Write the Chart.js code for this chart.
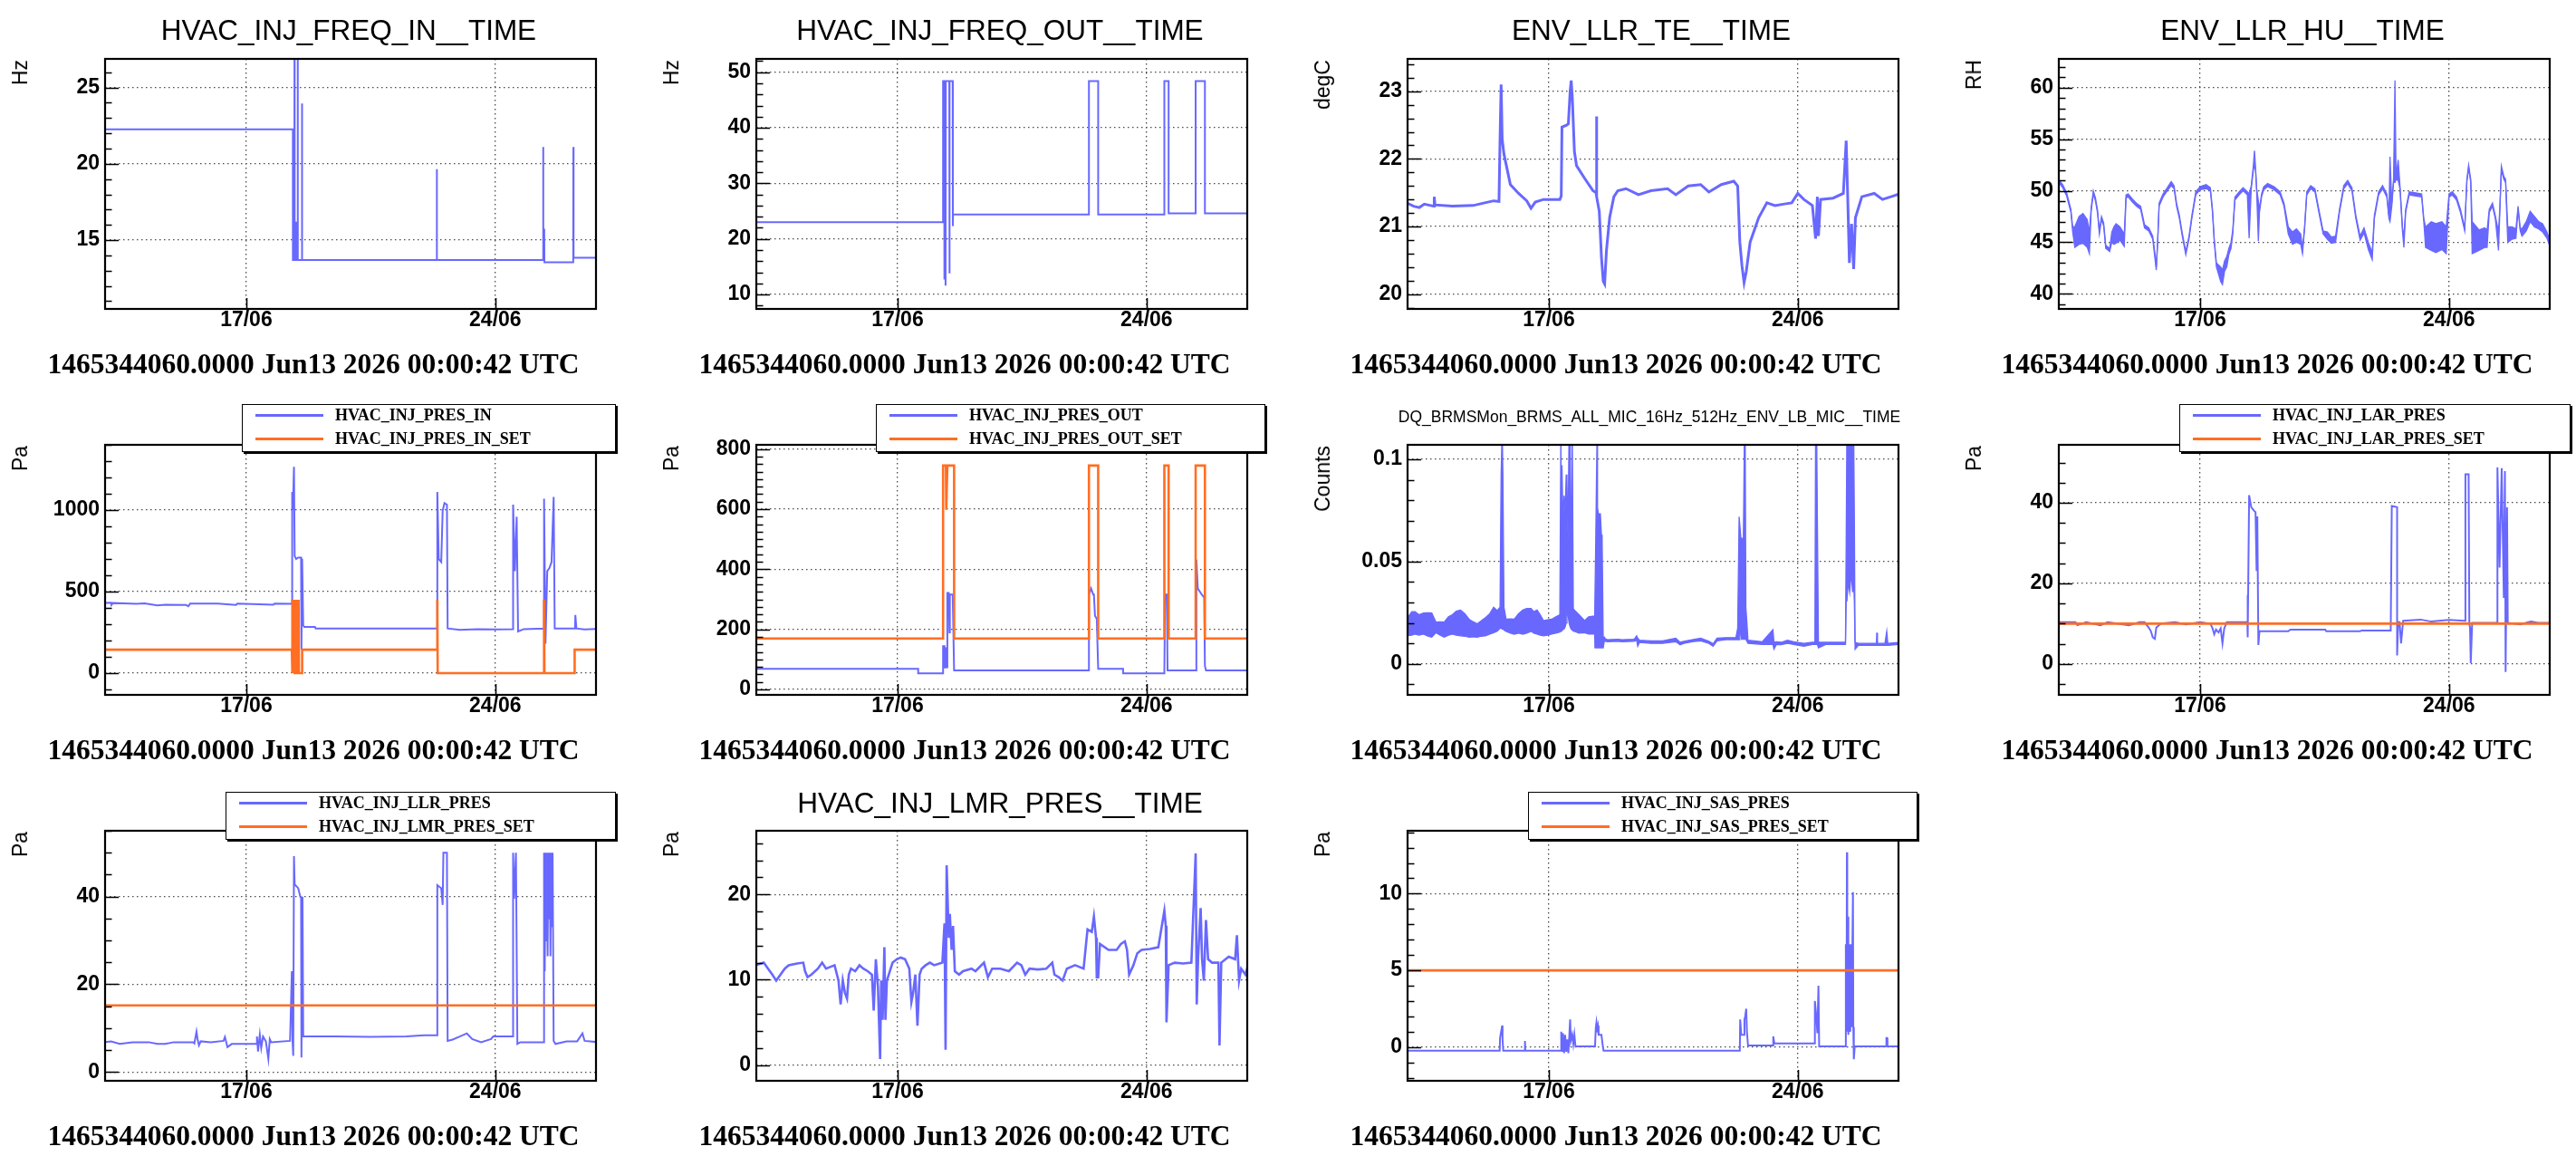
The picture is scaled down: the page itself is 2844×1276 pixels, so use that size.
<!DOCTYPE html>
<html><head><meta charset="utf-8">
<script src="https://cdn.jsdelivr.net/npm/chart.js@4.4.1/dist/chart.umd.min.js"></script>
<style>
html,body{margin:0;padding:0;background:#fff;}
body{width:2844px;height:1276px;overflow:hidden;position:relative;}
.cell{position:absolute;width:719px;height:426px;}
.cell canvas{position:absolute;left:0;top:0;}
.t{position:absolute;white-space:nowrap;line-height:1;color:#000;}
.title{font-family:'Liberation Sans',Arial,sans-serif;font-size:31.5px;transform:translateX(-50%);}
.small{font-family:'Liberation Sans',Arial,sans-serif;font-size:17.5px;transform:translateX(-50%);}
.stamp{font-family:'Liberation Serif','Times New Roman',serif;font-weight:bold;font-size:31.5px;transform:translateX(-50%);}
.unit{font-family:'Liberation Sans',Arial,sans-serif;font-size:23px;writing-mode:vertical-rl;transform:rotate(180deg);}
.leg{position:absolute;background:#fff;border:1.5px solid #000;box-shadow:2px 2px 0 #000;box-sizing:border-box;}
.leg .ln{position:absolute;height:3px;}
.leg .lt{position:absolute;font-family:'Liberation Serif','Times New Roman',serif;font-weight:bold;font-size:18px;line-height:1;white-space:nowrap;color:#000;}
</style></head><body>
<script>
// ---------------- DATA ----------------
const xTickValues = [17, 24];
const xTickLabels = ['17/06', '24/06'];
const stampText = '1465344060.0000 Jun13 2026 00:00:42 UTC';

// [day of June, value]
const freqIn = [[13.0,22.27],[18.31,22.27],[18.31,13.7],[18.35,13.7],[18.355,27.5],[18.36,13.7],[18.39,13.7],[18.395,16.2],[18.40,13.7],[18.44,13.7],[18.445,27.5],[18.45,13.7],[18.56,13.7],[18.565,23.95],[18.57,13.7],[22.35,13.7],[22.355,19.65],[22.36,13.7],[25.34,13.7],[25.345,21.1],[25.35,13.7],[25.37,13.7],[25.375,15.75],[25.38,13.55],[26.19,13.55],[26.195,21.1],[26.2,13.85],[26.9,13.85]];

const freqOut = [[13.0,23.0],[18.28,23.0],[18.28,48.4],[18.31,48.4],[18.315,12.7],[18.32,48.4],[18.345,48.4],[18.35,11.6],[18.355,48.4],[18.455,48.4],[18.46,13.8],[18.465,48.4],[18.55,48.4],[18.555,22.3],[18.56,24.4],[22.38,24.4],[22.38,48.4],[22.64,48.4],[22.64,24.4],[24.50,24.4],[24.50,48.4],[24.62,48.4],[24.62,24.6],[25.38,24.6],[25.38,48.4],[25.64,48.4],[25.64,24.6],[26.9,24.6]];

const llrTe = [[13.0,21.35],[13.2,21.3],[13.36,21.28],[13.5,21.33],[13.77,21.3],[13.78,21.44],[13.8,21.32],[14.29,21.3],[14.87,21.31],[15.2,21.35],[15.45,21.38],[15.6,21.37],[15.63,22.3],[15.66,23.10],[15.69,22.29],[15.74,22.07],[15.92,21.62],[16.15,21.49],[16.38,21.38],[16.5,21.27],[16.62,21.36],[16.85,21.4],[17.31,21.4],[17.35,21.45],[17.37,22.47],[17.5,22.5],[17.55,22.52],[17.6,23.0],[17.63,23.16],[17.66,22.92],[17.72,22.11],[17.78,21.9],[18.01,21.71],[18.24,21.53],[18.33,21.5],[18.34,22.63],[18.35,21.44],[18.42,21.22],[18.48,20.55],[18.53,20.19],[18.57,20.15],[18.62,20.64],[18.71,21.13],[18.83,21.44],[18.94,21.53],[19.17,21.56],[19.52,21.47],[19.87,21.53],[20.34,21.56],[20.57,21.47],[20.92,21.6],[21.27,21.62],[21.5,21.51],[21.85,21.62],[22.2,21.67],[22.31,21.6],[22.37,20.77],[22.43,20.42],[22.49,20.17],[22.55,20.33],[22.66,20.77],[22.9,21.13],[23.13,21.35],[23.36,21.31],[23.59,21.33],[23.83,21.35],[24.0,21.49],[24.17,21.4],[24.41,21.31],[24.5,20.82],[24.55,21.44],[24.58,20.86],[24.64,21.4],[24.99,21.42],[25.28,21.49],[25.36,22.27],[25.4,21.49],[25.45,20.46],[25.51,21.04],[25.57,20.37],[25.62,21.13],[25.8,21.44],[26.15,21.49],[26.38,21.4],[26.62,21.44],[26.9,21.49]];

// [day, low, high] envelope of the noisy humidity trace
const llrHu = [[13.0,50.9,51.2],[13.14,50.3,50.6],[13.25,49.5,49.8],[13.37,47.9,48.2],[13.42,46.0,46.5],[13.48,44.5,46.5],[13.60,44.8,47.5],[13.71,44.9,47.8],[13.83,44.5,47.2],[13.89,43.9,46.0],[13.94,48.0,48.4],[14.00,49.7,50.0],[14.06,49.0,49.3],[14.12,47.8,48.1],[14.17,45.8,46.1],[14.23,47.2,47.5],[14.29,46.6,46.9],[14.35,44.4,44.7],[14.46,44.1,44.4],[14.52,45.0,46.0],[14.58,44.8,46.5],[14.64,44.9,46.8],[14.75,45.2,46.5],[14.87,44.6,45.8],[14.92,49.3,49.6],[14.98,49.4,49.7],[15.10,48.9,49.2],[15.21,48.5,48.8],[15.33,48.2,48.5],[15.44,46.4,46.7],[15.56,46.1,46.4],[15.67,45.3,45.6],[15.73,43.5,44.0],[15.77,42.3,42.6],[15.81,45.0,45.3],[15.85,48.5,48.8],[15.96,49.4,49.7],[16.08,50.0,50.3],[16.19,50.5,50.9],[16.27,50.2,50.5],[16.34,48.5,48.8],[16.42,47.3,47.6],[16.50,45.6,45.9],[16.60,43.8,44.1],[16.69,45.3,45.6],[16.77,47.3,47.6],[16.88,49.6,49.9],[17.00,50.1,50.4],[17.17,50.2,50.6],[17.29,50.0,50.3],[17.35,47.9,48.2],[17.40,45.0,45.3],[17.46,42.6,43.0],[17.52,41.9,42.8],[17.58,41.2,42.6],[17.63,40.9,42.3],[17.69,42.2,43.2],[17.75,42.6,43.6],[17.81,43.8,44.4],[17.87,44.4,45.0],[17.92,45.8,46.2],[17.98,49.1,49.4],[18.10,49.6,49.9],[18.21,50.0,50.3],[18.33,49.6,49.9],[18.38,45.4,49.7],[18.44,50.2,50.5],[18.50,52.0,52.5],[18.53,52.5,53.9],[18.56,52.0,52.3],[18.59,50.0,50.3],[18.64,45.1,49.0],[18.67,47.9,48.2],[18.73,49.4,49.7],[18.79,50.1,50.4],[18.90,50.4,50.7],[19.08,50.1,50.4],[19.25,49.6,49.9],[19.36,48.5,48.8],[19.48,45.8,46.5],[19.60,44.8,46.0],[19.71,45.0,46.3],[19.83,44.8,45.8],[19.88,43.9,44.4],[19.94,46.3,46.6],[20.00,49.6,49.9],[20.11,50.2,50.5],[20.23,49.9,50.2],[20.34,47.9,48.2],[20.46,45.8,46.1],[20.58,45.3,46.0],[20.69,44.9,45.5],[20.81,45.0,45.6],[20.92,47.9,48.2],[21.04,50.2,50.5],[21.15,50.7,51.0],[21.27,50.0,50.3],[21.38,47.3,47.6],[21.50,45.2,45.6],[21.61,45.9,46.4],[21.73,44.3,45.0],[21.84,43.3,44.0],[21.90,47.3,47.6],[22.02,49.6,49.9],[22.13,50.2,50.5],[22.25,49.4,49.7],[22.31,47.3,47.6],[22.34,47.0,53.3],[22.39,48.5,48.8],[22.44,50.8,51.1],[22.48,50.8,60.7],[22.51,51.1,51.4],[22.57,51.0,53.0],[22.62,50.2,50.5],[22.69,46.1,46.5],[22.73,44.5,45.5],[22.78,47.9,48.2],[22.88,49.6,49.9],[23.06,49.5,49.8],[23.23,49.4,49.7],[23.29,47.0,47.3],[23.34,44.5,46.5],[23.50,44.2,47.0],[23.63,44.0,46.8],[23.80,44.3,47.0],[23.92,43.9,46.5],[24.00,49.4,49.7],[24.09,49.6,49.9],[24.21,49.1,49.4],[24.32,47.9,48.2],[24.44,46.1,46.4],[24.50,50.8,51.1],[24.55,52.2,52.5],[24.61,50.8,51.1],[24.65,43.9,47.0],[24.84,44.2,46.2],[25.00,44.5,46.4],[25.07,44.5,46.2],[25.13,47.9,48.2],[25.22,48.5,48.8],[25.30,47.3,47.6],[25.39,44.2,46.0],[25.43,48.2,48.5],[25.47,52.0,52.4],[25.54,51.1,51.4],[25.59,50.8,51.1],[25.65,45.0,46.5],[25.77,45.3,46.5],[25.88,45.4,46.3],[25.94,48.2,48.5],[26.00,46.1,46.4],[26.05,45.6,46.3],[26.17,46.1,47.0],[26.28,47.0,48.0],[26.40,46.5,47.5],[26.52,46.3,47.0],[26.63,46.0,46.8],[26.75,45.4,46.0],[26.9,44.0,44.6]];

const presIn = [[13.0,431],[13.2,432],[13.21,418],[13.25,430],[13.56,428],[13.91,425],[14.14,428],[14.5,415],[14.72,420],[15.31,418],[15.37,410],[15.42,426],[16.2,427],[16.71,418],[16.75,427],[17.76,420],[17.8,426],[18.28,425],[18.29,1111],[18.31,1000],[18.34,1265],[18.36,718],[18.40,700],[18.46,709],[18.52,709],[18.54,709],[18.55,144],[18.57,700],[18.60,293],[18.63,283],[18.93,283],[18.95,274],[22.37,274],[22.37,1111],[22.41,700],[22.48,682],[22.52,996],[22.57,1043],[22.64,1033],[22.66,274],[23.0,265],[23.5,270],[24.0,268],[24.50,270],[24.50,1033],[24.55,626],[24.60,959],[24.64,256],[24.8,270],[25.37,274],[25.37,1070],[25.41,181],[25.46,626],[25.52,644],[25.58,681],[25.64,1080],[25.67,274],[26.24,274],[26.25,357],[26.28,274],[26.5,268],[26.9,272]];
const presInSet = [[13.0,144],[18.28,144],[18.29,450],[18.30,0],[18.31,450],[18.32,0],[18.33,450],[18.34,0],[18.35,450],[18.36,0],[18.37,450],[18.38,0],[18.39,450],[18.40,0],[18.41,450],[18.42,0],[18.43,450],[18.44,0],[18.45,450],[18.46,0],[18.47,450],[18.48,0],[18.57,0],[18.57,144],[22.37,144],[22.37,450],[22.38,0],[25.37,0],[25.37,450],[25.38,0],[26.23,0],[26.23,144],[26.9,144]];

const presOut = [[13.0,68.6],[17.58,68.6],[17.58,53.5],[18.28,53.5],[18.28,144],[18.32,144],[18.33,73],[18.35,140],[18.38,74],[18.40,321],[18.44,321],[18.46,190],[18.47,316],[18.55,316],[18.59,63.6],[22.38,63.6],[22.38,316],[22.44,336],[22.5,316],[22.52,316],[22.55,245],[22.6,235],[22.64,68.6],[23.34,68.6],[23.34,53.5],[24.50,53.5],[24.52,316],[24.57,316],[24.59,63.6],[25.38,63.6],[25.40,432],[25.44,336],[25.55,316],[25.62,306],[25.64,78.7],[25.67,63.6],[26.9,63.6]];
const presOutSet = [[13.0,169.5],[18.28,169.5],[18.28,745],[18.36,745],[18.37,598],[18.40,745],[18.59,745],[18.59,169.5],[22.38,169.5],[22.38,745],[22.64,745],[22.64,169.5],[24.50,169.5],[24.50,745],[24.62,745],[24.62,169.5],[25.38,169.5],[25.38,745],[25.64,745],[25.64,169.5],[26.9,169.5]];

// [day, low, high] envelope of the noisy BRMS trace
const micBrms = [[13.0,.0137,.0218],[13.15,.0140,.0255],[13.24,.0145,.0255],[13.35,.0140,.0240],[13.48,.0145,.0248],[13.60,.0135,.0250],[13.71,.0130,.0248],[13.83,.0152,.0204],[13.95,.0140,.0205],[14.06,.0130,.0204],[14.18,.0140,.0230],[14.29,.0145,.0240],[14.40,.0140,.0258],[14.52,.0137,.0263],[14.64,.0135,.0245],[14.76,.0130,.0218],[14.88,.0132,.0205],[14.99,.0130,.0196],[15.10,.0135,.0210],[15.22,.0137,.0226],[15.34,.0145,.0245],[15.45,.0152,.0277],[15.55,.0160,.0260],[15.63,.0174,.0277],[15.66,.0174,.0926],[15.69,.0170,.115],[15.71,.0170,.0926],[15.74,.0165,.0277],[15.80,.0159,.0218],[15.92,.0150,.0220],[16.03,.0145,.0218],[16.15,.0150,.0245],[16.27,.0145,.0263],[16.38,.0150,.0270],[16.50,.0159,.0270],[16.58,.0150,.0255],[16.67,.0145,.0263],[16.76,.0140,.0240],[16.85,.0137,.0211],[16.96,.0140,.0215],[17.08,.0145,.0218],[17.20,.0150,.0230],[17.31,.0155,.0240],[17.34,.0160,.115],[17.36,.0159,.0400],[17.37,.0159,.0971],[17.40,.0170,.0700],[17.43,.0170,.0823],[17.46,.0180,.0750],[17.49,.0200,.0926],[17.51,.0250,.0900],[17.54,.0240,.0602],[17.57,.0200,.115],[17.60,.0180,.115],[17.63,.0170,.0400],[17.66,.0165,.115],[17.69,.0160,.0270],[17.72,.0159,.0263],[17.85,.0150,.0240],[18.01,.0152,.0211],[18.12,.0145,.0230],[18.24,.0145,.0233],[18.29,.0145,.0233],[18.30,.0078,.0233],[18.32,.0078,.0600],[18.34,.0078,.0897],[18.36,.0078,.115],[18.37,.0078,.0764],[18.39,.0078,.0740],[18.41,.0078,.0180],[18.42,.0078,.0734],[18.45,.0078,.0734],[18.48,.0078,.0631],[18.50,.0078,.0600],[18.53,.0078,.0120],[18.56,.0110,.0130],[18.59,.0110,.0122],[18.65,.0108,.0118],[18.94,.0110,.0120],[19.06,.0108,.0118],[19.40,.0110,.0120],[19.47,.0115,.0137],[19.50,.0086,.0125],[19.55,.0105,.0115],[19.87,.0100,.0112],[20.20,.0100,.0112],[20.57,.0108,.0125],[20.69,.0093,.0105],[20.80,.0100,.0110],[21.03,.0108,.0118],[21.27,.0112,.0125],[21.50,.0100,.0110],[21.62,.0086,.0098],[21.73,.0112,.0125],[21.97,.0118,.0128],[22.26,.0118,.0128],[22.31,.0118,.0174],[22.35,.0118,.0720],[22.37,.0150,.0720],[22.40,.0150,.0617],[22.42,.0120,.0602],[22.47,.0120,.0617],[22.50,.0120,.115],[22.52,.0120,.115],[22.54,.0120,.0277],[22.57,.0110,.0200],[22.60,.0100,.0115],[23.00,.0095,.0108],[23.30,.0095,.0167],[23.33,.0071,.0105],[23.40,.0095,.0108],[23.53,.0093,.0105],[23.71,.0100,.0115],[23.88,.0095,.0108],[24.17,.0086,.0100],[24.41,.0095,.0105],[24.48,.0095,.0105],[24.50,.0095,.115],[24.53,.0095,.115],[24.55,.0095,.0705],[24.58,.0078,.0105],[24.80,.0095,.0105],[25.10,.0095,.0105],[25.34,.0095,.0105],[25.36,.0307,.0600],[25.38,.0307,.115],[25.42,.0400,.115],[25.46,.0350,.115],[25.50,.0450,.115],[25.54,.0350,.115],[25.57,.0400,.115],[25.59,.0300,.0700],[25.61,.0071,.0105],[25.70,.0090,.0100],[26.00,.0090,.0100],[26.21,.0090,.0100],[26.22,.0090,.0152],[26.24,.0090,.0100],[26.45,.0090,.0100],[26.50,.0090,.0159],[26.53,.0090,.0100],[26.9,.0095,.0105]];

const larPres = [[13.0,10.35],[13.5,10.35],[13.55,9.6],[13.8,10.35],[14.2,9.6],[14.4,10.35],[15.0,9.6],[15.3,10.35],[15.44,10.35],[15.56,9.0],[15.62,8.1],[15.67,6.6],[15.73,6.2],[15.77,9.0],[15.9,10.0],[16.3,10.35],[16.6,9.8],[17.0,10.35],[17.29,10.0],[17.35,8.85],[17.4,7.35],[17.45,8.5],[17.52,7.8],[17.58,8.8],[17.63,5.1],[17.68,8.8],[17.75,10.35],[18.33,10.35],[18.33,17.1],[18.35,6.6],[18.38,41.9],[18.44,38.9],[18.52,38.0],[18.56,37.7],[18.59,23.1],[18.61,36.6],[18.63,36.6],[18.64,4.7],[18.67,8.1],[19.48,8.1],[19.54,8.5],[20.52,8.5],[20.55,8.1],[21.50,8.1],[21.55,8.3],[22.36,8.3],[22.39,39.2],[22.54,38.9],[22.54,2.1],[22.57,10.35],[22.61,10.35],[22.65,5.1],[22.71,10.7],[23.2,11.0],[23.5,10.5],[24.0,10.9],[24.44,10.7],[24.46,47.1],[24.55,47.1],[24.57,10.0],[24.59,9.0],[24.61,0.2],[24.65,10.2],[25.36,10.2],[25.36,48.8],[25.42,23.9],[25.48,48.6],[25.54,16.4],[25.57,47.9],[25.59,-2.0],[25.63,38.9],[25.65,10.2],[26.0,9.8],[26.3,10.5],[26.5,10.2],[26.9,10.2]];
const larPresSet = [[13.0,10.0],[26.9,10.0]];

const llrPres = [[13.0,6.8],[13.2,7.0],[13.44,6.4],[13.8,6.8],[14.26,6.8],[14.5,6.4],[14.72,6.4],[14.96,6.8],[15.5,6.8],[15.54,6.5],[15.6,9.2],[15.63,7.5],[15.67,6.1],[15.72,7.0],[16.0,6.8],[16.36,7.1],[16.4,8.0],[16.47,5.7],[16.59,6.4],[17.06,6.4],[17.29,6.4],[17.3,8.1],[17.33,4.7],[17.38,8.5],[17.42,5.5],[17.47,8.1],[17.55,7.0],[17.62,3.0],[17.66,7.5],[17.7,6.8],[18.23,7.1],[18.28,23.0],[18.3,7.1],[18.32,3.7],[18.34,49.2],[18.36,42.6],[18.38,42.6],[18.46,41.9],[18.52,39.9],[18.54,39.9],[18.55,3.3],[18.58,39.9],[18.60,8.1],[18.63,8.1],[19.5,8.1],[20.5,8.0],[21.5,8.1],[22.0,8.4],[22.37,8.4],[22.37,42.6],[22.48,41.9],[22.52,38.1],[22.54,50.0],[22.64,50.0],[22.66,7.1],[22.8,7.4],[23.0,8.1],[23.2,8.8],[23.35,7.5],[23.6,6.8],[23.88,7.5],[23.94,8.1],[24.50,8.1],[24.50,50.0],[24.53,39.5],[24.58,50.0],[24.62,6.4],[24.7,6.8],[25.37,6.8],[25.37,50.0],[25.39,23.0],[25.41,50.0],[25.43,30.0],[25.45,50.0],[25.47,26.4],[25.49,50.0],[25.51,35.0],[25.53,50.0],[25.55,26.4],[25.57,50.0],[25.59,33.0],[25.61,50.0],[25.64,7.1],[25.69,6.4],[26.0,7.0],[26.3,7.0],[26.45,8.8],[26.51,7.1],[26.9,6.8]];
const lmrPresSet = [[13.0,15.2],[26.9,15.2]];

const lmrPres = [[13.0,11.7],[13.24,12.0],[13.36,11.3],[13.48,10.6],[13.59,9.9],[13.71,10.6],[13.83,11.3],[13.94,11.7],[14.18,11.9],[14.35,12.0],[14.40,11.0],[14.47,10.3],[14.58,10.6],[14.76,11.3],[14.88,12.0],[14.99,11.3],[15.23,11.7],[15.34,9.9],[15.40,7.1],[15.46,9.9],[15.52,8.5],[15.58,7.8],[15.63,10.6],[15.69,11.3],[15.81,11.0],[15.93,11.7],[16.04,11.3],[16.16,11.0],[16.28,10.6],[16.33,6.4],[16.39,12.4],[16.45,9.2],[16.51,0.7],[16.54,9.9],[16.58,5.3],[16.63,13.8],[16.66,5.3],[16.70,9.9],[16.86,12.0],[16.98,12.4],[17.09,12.6],[17.21,12.4],[17.33,11.3],[17.39,7.4],[17.44,8.5],[17.50,10.6],[17.56,4.6],[17.62,10.6],[17.68,11.3],[17.79,11.7],[17.91,12.0],[18.03,11.7],[18.26,12.0],[18.32,16.6],[18.35,1.8],[18.38,23.4],[18.44,14.9],[18.47,17.7],[18.52,13.5],[18.56,16.3],[18.61,11.0],[18.73,10.6],[18.84,11.0],[19.08,11.3],[19.19,11.0],[19.43,12.0],[19.54,10.3],[19.66,11.3],[19.89,11.3],[20.13,11.0],[20.36,12.0],[20.48,11.7],[20.59,10.6],[20.71,11.3],[20.94,11.2],[21.18,11.3],[21.35,12.0],[21.41,10.6],[21.53,10.3],[21.64,9.9],[21.76,11.3],[21.99,11.7],[22.23,11.3],[22.34,15.9],[22.46,15.6],[22.52,17.4],[22.58,14.9],[22.60,10.3],[22.64,10.3],[22.69,14.2],[22.93,13.5],[23.16,13.5],[23.28,14.2],[23.39,14.5],[23.45,13.5],[23.51,10.6],[23.63,11.7],[23.74,13.1],[23.86,13.5],[24.09,13.6],[24.33,13.8],[24.50,18.1],[24.54,16.3],[24.56,5.0],[24.62,11.7],[24.79,12.0],[25.03,11.9],[25.26,12.0],[25.38,24.8],[25.41,7.1],[25.45,12.7],[25.52,18.4],[25.56,12.4],[25.61,9.9],[25.67,17.0],[25.73,12.4],[25.84,12.0],[26.02,12.0],[26.05,2.3],[26.10,12.0],[26.31,12.7],[26.49,12.4],[26.54,15.2],[26.60,9.9],[26.66,11.3],[26.78,10.6],[26.9,12.4]];

const sasPres = [[13.0,-0.24],[15.62,-0.24],[15.63,0.6],[15.66,1.0],[15.69,1.4],[15.70,0.5],[15.72,-0.24],[16.32,-0.24],[16.33,0.4],[16.34,-0.24],[17.34,-0.24],[17.35,1.0],[17.38,-0.3],[17.40,0.9],[17.43,-0.4],[17.46,0.8],[17.49,-0.3],[17.52,0.5],[17.55,-0.4],[17.58,0.9],[17.60,1.8],[17.62,0.4],[17.66,0.8],[17.69,0.2],[17.72,0.8],[17.75,0.04],[18.30,0.04],[18.32,1.2],[18.34,1.6],[18.36,1.2],[18.38,1.4],[18.40,0.8],[18.48,0.8],[18.52,0.04],[18.54,-0.24],[22.37,-0.24],[22.38,1.8],[22.41,0.8],[22.48,0.8],[22.50,1.8],[22.52,2.0],[22.55,2.5],[22.57,1.0],[22.60,0.1],[23.30,0.1],[23.31,0.7],[23.34,0.24],[24.47,0.24],[24.48,3.0],[24.52,2.0],[24.55,0.9],[24.58,4.0],[24.60,0.04],[25.34,0.04],[25.35,6.7],[25.37,1.0],[25.38,12.7],[25.39,2.0],[25.41,8.5],[25.42,0.8],[25.43,6.3],[25.44,1.0],[25.45,6.7],[25.46,1.2],[25.47,6.3],[25.48,1.0],[25.49,6.7],[25.50,1.3],[25.51,6.5],[25.52,1.3],[25.53,4.4],[25.55,10.1],[25.56,1.3],[25.57,1.2],[25.58,-0.79],[25.60,0.04],[26.48,0.04],[26.49,0.59],[26.51,0.59],[26.52,0.04],[26.9,0.04]];
const sasPresSet = [[13.0,5.0],[26.9,5.0]];

// y-axis tick values / labels
const freqInTicks = [15,20,25],       freqInLabels = ['15','20','25'];
const freqOutTicks = [10,20,30,40,50], freqOutLabels = ['10','20','30','40','50'];
const teTicks = [20,21,22,23],         teLabels = ['20','21','22','23'];
const huTicks = [40,45,50,55,60],      huLabels = ['40','45','50','55','60'];
const presInTicks = [0,500,1000],      presInLabels = ['0','500','1000'];
const presOutTicks = [0,200,400,600,800], presOutLabels = ['0','200','400','600','800'];
const micTicks = [0,0.05,0.1],         micLabels = ['0','0.05','0.1'];
const larTicks = [0,20,40],            larLabels = ['0','20','40'];
const llrTicks = [0,20,40],            llrLabels = ['0','20','40'];
const lmrTicks = [0,10,20],            lmrLabels = ['0','10','20'];
const sasTicks = [0,5,10],             sasLabels = ['0','5','10'];

// ---------------- LAYOUT / STYLE ----------------
const BLUE = 'rgb(104,104,255)', ORANGE = 'rgb(255,110,35)';
const CELL_W = 719, CELL_H = 426, ROW_Y = [0, 426, 852];
const AREA = {left:116, right:658, top:65, bottom:341};
const X_MIN = 13.03, X_MAX = 26.83;
const FONT = "'Liberation Sans', Arial, sans-serif";

const panels = [
  {col:0,row:0,title:'HVAC_INJ_FREQ_IN__TIME',unit:'Hz',yMin:10.49,yMax:26.88,ticks:freqInTicks,labels:freqInLabels,minor:1,
   series:[{data:freqIn,color:BLUE,w:2}]},
  {col:1,row:0,title:'HVAC_INJ_FREQ_OUT__TIME',unit:'Hz',yMin:7.4,yMax:52.4,ticks:freqOutTicks,labels:freqOutLabels,minor:2,
   series:[{data:freqOut,color:BLUE,w:2}]},
  {col:2,row:0,title:'ENV_LLR_TE__TIME',unit:'degC',yMin:19.78,yMax:23.48,ticks:teTicks,labels:teLabels,minor:0.2,
   series:[{data:llrTe,color:BLUE,w:3}]},
  {col:3,row:0,title:'ENV_LLR_HU__TIME',unit:'RH',yMin:38.53,yMax:62.8,ticks:huTicks,labels:huLabels,minor:1,
   series:[{band:llrHu,color:BLUE,w:1.3}]},
  {col:0,row:1,legend:{left:267,top:20,right:680,bottom:73},unit:'Pa',yMin:-133,yMax:1400,ticks:presInTicks,labels:presInLabels,minor:100,
   series:[{data:presIn,color:BLUE,w:2,name:'HVAC_INJ_PRES_IN'},{data:presInSet,color:ORANGE,w:2.6,name:'HVAC_INJ_PRES_IN_SET'}]},
  {col:1,row:1,legend:{left:248,top:20,right:678,bottom:73},unit:'Pa',yMin:-18,yMax:814,ticks:presOutTicks,labels:presOutLabels,minor:25,
   series:[{data:presOut,color:BLUE,w:2,name:'HVAC_INJ_PRES_OUT'},{data:presOutSet,color:ORANGE,w:2.6,name:'HVAC_INJ_PRES_OUT_SET'}]},
  {col:2,row:1,small:'DQ_BRMSMon_BRMS_ALL_MIC_16Hz_512Hz_ENV_LB_MIC__TIME',unit:'Counts',yMin:-0.0152,yMax:0.1071,ticks:micTicks,labels:micLabels,minor:0.01,
   series:[{band:micBrms,color:BLUE,w:1.3}]},
  {col:3,row:1,legend:{left:249,top:20,right:681,bottom:73},unit:'Pa',yMin:-7.7,yMax:54.4,ticks:larTicks,labels:larLabels,minor:5,
   series:[{data:larPres,color:BLUE,w:2,name:'HVAC_INJ_LAR_PRES'},{data:larPresSet,color:ORANGE,w:2.6,name:'HVAC_INJ_LAR_PRES_SET'}]},
  {col:0,row:2,legend:{left:249,top:22,right:680,bottom:75},unit:'Pa',yMin:-2.0,yMax:55.0,ticks:llrTicks,labels:llrLabels,minor:5,
   series:[{data:llrPres,color:BLUE,w:2,name:'HVAC_INJ_LLR_PRES'},{data:lmrPresSet,color:ORANGE,w:2.6,name:'HVAC_INJ_LMR_PRES_SET'}]},
  {col:1,row:2,title:'HVAC_INJ_LMR_PRES__TIME',unit:'Pa',yMin:-1.84,yMax:27.45,ticks:lmrTicks,labels:lmrLabels,minor:2,
   series:[{data:lmrPres,color:BLUE,w:2.6}]},
  {col:2,row:2,legend:{left:249,top:22,right:679,bottom:75},unit:'Pa',yMin:-2.2,yMax:14.1,ticks:sasTicks,labels:sasLabels,minor:1,
   series:[{data:sasPres,color:BLUE,w:2,name:'HVAC_INJ_SAS_PRES'},{data:sasPresSet,color:ORANGE,w:2.6,name:'HVAC_INJ_SAS_PRES_SET'}]}
];

// ROOT-like frame with inside ticks
const rootFrame = {
  id: 'rootFrame',
  afterDraw(chart, args, o) {
    const {ctx, chartArea: a} = chart;
    const xs = chart.scales.x, ys = chart.scales.y;
    ctx.save();
    ctx.setLineDash([]);
    ctx.strokeStyle = '#000';
    ctx.lineWidth = 1.6;
    ctx.beginPath();
    const k0 = Math.ceil(ys.min / o.minor - 1e-6), k1 = Math.floor(ys.max / o.minor + 1e-6);
    for (let k = k0; k <= k1; k++) {
      const v = k * o.minor;
      const r = v / o.major;
      const isMajor = Math.abs(r - Math.round(r)) < 1e-6;
      const py = Math.round(ys.getPixelForValue(v)) + 0.5;
      ctx.moveTo(a.left, py);
      ctx.lineTo(a.left + (isMajor ? 15 : 7.5), py);
    }
    xTickValues.forEach(v => {
      const px = Math.round(xs.getPixelForValue(v)) + 0.5;
      ctx.moveTo(px, a.bottom);
      ctx.lineTo(px, a.bottom - 12);
    });
    ctx.stroke();
    ctx.lineWidth = 2.2;
    ctx.strokeRect(a.left, a.top, a.right - a.left, a.bottom - a.top);
    ctx.restore();
  }
};

function addText(cell, cls, text, left, top) {
  const d = document.createElement('div');
  d.className = 't ' + cls;
  d.textContent = text;
  d.style.left = left + 'px';
  d.style.top = top + 'px';
  cell.appendChild(d);
  return d;
}

panels.forEach(p => {
  const cell = document.createElement('div');
  cell.className = 'cell';
  cell.style.left = (p.col * CELL_W) + 'px';
  cell.style.top = ROW_Y[p.row] + 'px';
  document.body.appendChild(cell);

  const cv = document.createElement('canvas');
  cv.width = CELL_W; cv.height = CELL_H;
  cv.style.width = CELL_W + 'px'; cv.style.height = CELL_H + 'px';
  cell.appendChild(cv);

  const datasets = [];
  p.series.forEach(s => {
    const order = s.color === ORANGE ? 1 : 2;
    if (s.band) {
      datasets.push({data: s.band.map(r => ({x: r[0], y: r[1]})), borderColor: s.color, borderWidth: s.w,
        pointRadius: 0, fill: false, clip: 0, tension: 0, order});
      datasets.push({data: s.band.map(r => ({x: r[0], y: r[2]})), borderColor: s.color, backgroundColor: s.color,
        borderWidth: s.w, pointRadius: 0, fill: '-1', clip: 0, tension: 0, order});
    } else {
      datasets.push({data: s.data.map(r => ({x: r[0], y: r[1]})), borderColor: s.color, borderWidth: s.w,
        pointRadius: 0, fill: false, clip: 0, tension: 0, order});
    }
  });

  const gridOpts = {color: '#4a4a4a', lineWidth: 1.3, drawTicks: false};
  const borderOpts = {display: false, dash: [1.5, 3.5]};
  const tickFont = {family: FONT, size: 23, weight: 'bold', lineHeight: 1};

  new Chart(cv, {
    type: 'line',
    data: {datasets},
    options: {
      responsive: false, animation: false, events: [], devicePixelRatio: window.devicePixelRatio || 1,
      layout: {padding: {left: 0, top: AREA.top, right: CELL_W - AREA.right, bottom: 0}},
      plugins: {legend: {display: false}, tooltip: {enabled: false},
        rootFrame: {major: p.ticks[1] - p.ticks[0], minor: p.minor}},
      scales: {
        x: {type: 'linear', min: X_MIN, max: X_MAX, bounds: 'data',
          afterFit: s => { s.height = CELL_H - AREA.bottom; },
          afterBuildTicks: s => { s.ticks = xTickValues.map(v => ({value: v})); },
          ticks: {autoSkip: false, maxRotation: 0, padding: 1, color: '#000', font: tickFont,
            callback: (v, i) => xTickLabels[i]},
          grid: gridOpts, border: borderOpts},
        y: {type: 'linear', min: p.yMin, max: p.yMax, bounds: 'data',
          afterFit: s => { s.width = AREA.left; },
          afterBuildTicks: s => { s.ticks = p.ticks.map(v => ({value: v})); },
          ticks: {autoSkip: false, padding: 6, color: '#000', font: tickFont,
            callback: (v, i) => p.labels[i]},
          grid: gridOpts, border: borderOpts}
      }
    },
    plugins: [rootFrame]
  });

  if (p.title) addText(cell, 'title', p.title, 385, p.row === 2 ? 19 : 17.5);
  if (p.small) addText(cell, 'small', p.small, 383, 25.5);
  const u = addText(cell, 'unit', p.unit, 10.5, 66);
  addText(cell, 'stamp', stampText, 346, 386);

  if (p.legend) {
    const L = p.legend;
    const box = document.createElement('div');
    box.className = 'leg';
    box.style.left = L.left + 'px';
    box.style.top = L.top + 'px';
    box.style.width = (L.right - L.left) + 'px';
    box.style.height = (L.bottom - L.top) + 'px';
    p.series.forEach((s, i) => {
      const cy = i === 0 ? 11 : 37;
      const ln = document.createElement('div');
      ln.className = 'ln';
      ln.style.left = '14px'; ln.style.width = '75px';
      ln.style.top = (cy - 1.5) + 'px';
      ln.style.background = s.color;
      box.appendChild(ln);
      const lt = document.createElement('div');
      lt.className = 'lt';
      lt.textContent = s.name;
      lt.style.left = '102px';
      lt.style.top = (cy - 9) + 'px';
      box.appendChild(lt);
    });
    cell.appendChild(box);
  }
});
</script>
</body></html>
